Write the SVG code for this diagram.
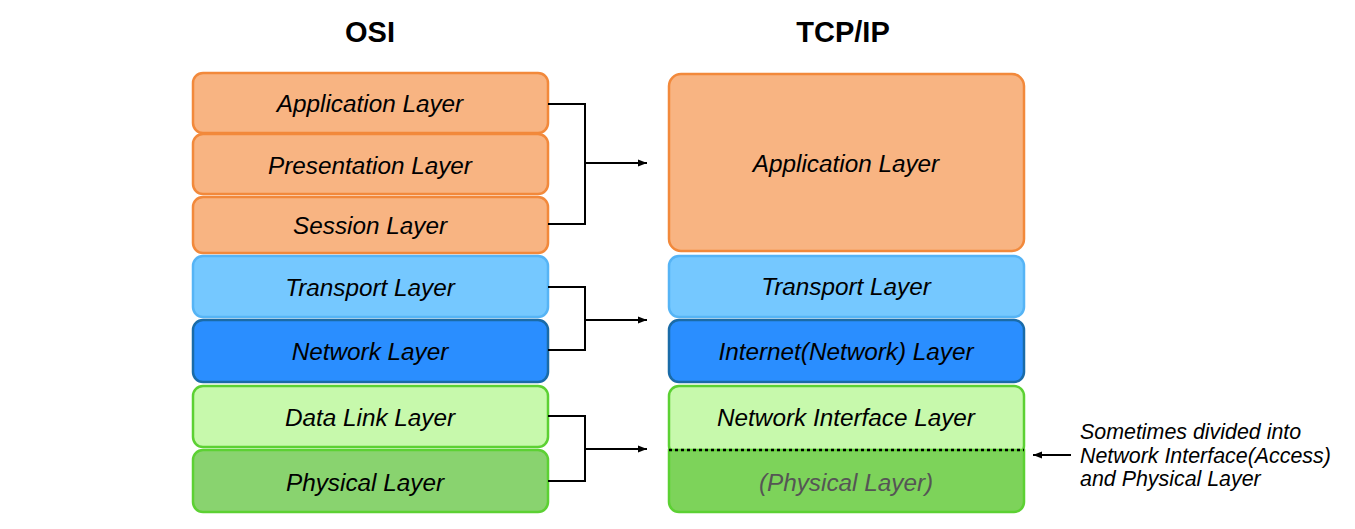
<svg xmlns="http://www.w3.org/2000/svg" width="1355" height="529" viewBox="0 0 1355 529">
<defs>
<marker id="ah" markerWidth="10" markerHeight="8" refX="9" refY="4" orient="auto" markerUnits="userSpaceOnUse">
<path d="M0,0.5 L9,4 L0,7.5 Z" fill="#000"/>
</marker>
<style>
.t{font-family:"Liberation Sans",Arial,sans-serif;font-style:italic;font-size:24.3px;text-anchor:middle;fill:#000}
.h{font-family:"Liberation Sans",Arial,sans-serif;font-weight:bold;font-size:29px;text-anchor:middle;fill:#000}
.n{font-family:"Liberation Sans",Arial,sans-serif;font-style:italic;font-size:21.4px;fill:#000}
.or{fill:#F8B482;stroke:#F2893B;stroke-width:2.5}
.lb{fill:#75C8FF;stroke:#56B4F5;stroke-width:2.5}
.db{fill:#2A8EFF;stroke:#1A6BA8;stroke-width:2.5}
.lg{fill:#C7F9AC;stroke:#5CD133;stroke-width:2.5}
.dg{fill:#89D36F;stroke:#5CD133;stroke-width:2.5}
.dg2{fill:#7DD35A;stroke:#5CD133;stroke-width:2.5}
.c{fill:none;stroke:#000;stroke-width:2}
</style>
</defs>
<rect width="1355" height="529" fill="#fff"/>
<text class="h" x="370" y="42">OSI</text>
<text class="h" x="843" y="42">TCP/IP</text>

<g id="osi-application"><rect class="or" x="193" y="73" width="355" height="60" rx="10"/><text class="t" x="370" y="112">Application Layer</text></g>
<g id="osi-presentation"><rect class="or" x="193" y="134" width="355" height="60" rx="10"/><text class="t" x="370" y="174">Presentation Layer</text></g>
<g id="osi-session"><rect class="or" x="193" y="197" width="355" height="56" rx="10"/><text class="t" x="370" y="234">Session Layer</text></g>
<g id="osi-transport"><rect class="lb" x="193" y="256" width="355" height="61" rx="10"/><text class="t" x="370" y="296">Transport Layer</text></g>
<g id="osi-network"><rect class="db" x="193" y="320" width="355" height="62" rx="10"/><text class="t" x="370" y="360">Network Layer</text></g>
<g id="osi-datalink"><rect class="lg" x="193" y="386" width="355" height="61" rx="10"/><text class="t" x="370" y="426">Data Link Layer</text></g>
<g id="osi-physical"><rect class="dg" x="193" y="450" width="355" height="62" rx="10"/><text class="t" x="365" y="491">Physical Layer</text></g>

<g id="tcp-application"><rect class="or" x="669" y="74" width="355" height="177" rx="12"/><text class="t" x="846" y="172">Application Layer</text></g>
<g id="tcp-transport"><rect class="lb" x="669" y="256" width="355" height="61" rx="10"/><text class="t" x="846" y="295">Transport Layer</text></g>
<g id="tcp-internet"><rect class="db" x="669" y="320" width="355" height="62" rx="10"/><text class="t" x="846" y="360">Internet(Network) Layer</text></g>
<g id="tcp-netif"><rect class="lg" x="669" y="386" width="355" height="70" rx="10"/><text class="t" x="846" y="426">Network Interface Layer</text></g>
<g id="tcp-physical"><path class="dg2" d="M669,450 H1024 V502 a10,10 0 0 1 -10,10 H679 a10,10 0 0 1 -10,-10 Z"/><line x1="669" y1="450" x2="1024" y2="450" stroke="#000" stroke-width="2.5" stroke-dasharray="3,3"/><text class="t" x="846" y="491" style="fill:#555">(Physical Layer)</text></g>

<g id="connectors">
<path class="c" d="M548,104 H585 V224 H548"/>
<path class="c" d="M585,163 H647" marker-end="url(#ah)"/>
<path class="c" d="M548,287 H585 V350 H548"/>
<path class="c" d="M585,320 H647" marker-end="url(#ah)"/>
<path class="c" d="M548,416 H585 V481 H548"/>
<path class="c" d="M585,449 H647" marker-end="url(#ah)"/>
<path class="c" d="M1071,455 H1033" stroke-width="1.5" marker-end="url(#ah)"/>
</g>

<g id="note">
<text class="n" x="1080" y="439">Sometimes divided into</text>
<text class="n" x="1080" y="463">Network Interface(Access)</text>
<text class="n" x="1080" y="486">and Physical Layer</text>
</g>
</svg>
